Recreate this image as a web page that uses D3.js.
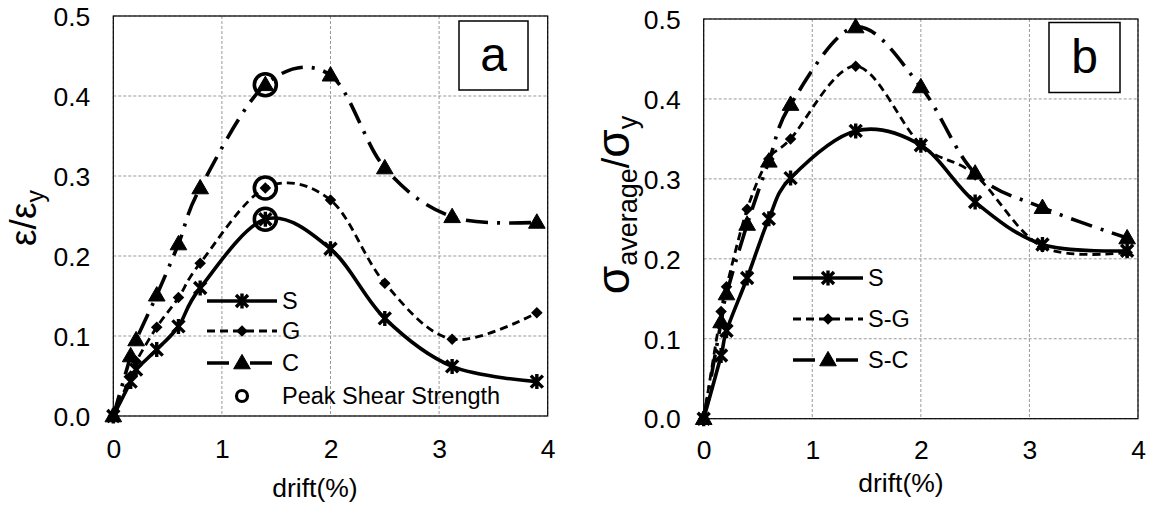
<!DOCTYPE html>
<html><head><meta charset="utf-8">
<script src="https://cdn.jsdelivr.net/npm/d3@7"></script>
<style>
html,body{margin:0;padding:0;background:#fff;}
text{font-family:"Liberation Sans",Arial,Helvetica,sans-serif;fill:#000;}
</style></head>
<body><svg id="c" width="1151" height="508"></svg>
<script>
// ---- data ----
const drift = [0, 0.16, 0.21, 0.4, 0.6, 0.8, 1.4, 2.0, 2.5, 3.12, 3.9];
const xTicks = [0, 1, 2, 3, 4];
const yTicks = [0.0, 0.1, 0.2, 0.3, 0.4, 0.5];
// panel a: strain ratio
const aS = [0, 0.043, 0.058, 0.083, 0.112, 0.160, 0.246, 0.209, 0.122, 0.062, 0.043];
const aG = [0, 0.050, 0.068, 0.111, 0.148, 0.191, 0.285, 0.270, 0.166, 0.096, 0.129];
const aC = [0, 0.075, 0.095, 0.151, 0.215, 0.285, 0.414, 0.426, 0.310, 0.249, 0.242];
const aNames = ["S", "G", "C"];
const peakDrift = 1.4;
const peakLabel = "Peak Shear Strength";
// panel b: average stress ratio
const bS = [0, 0.079, 0.110, 0.176, 0.250, 0.301, 0.360, 0.342, 0.271, 0.218, 0.210];
const bG = [0, 0.134, 0.165, 0.262, 0.325, 0.350, 0.441, 0.343, 0.305, 0.215, 0.208];
const bC = [0, 0.121, 0.156, 0.243, 0.322, 0.393, 0.490, 0.415, 0.307, 0.264, 0.226];
const bNames = ["S", "S-G", "S-C"];
const xTitle = "drift(%)";

const svg = d3.select("#c");
const styles = [
  {dash: null, w: 3.6, marker: "star"},
  {dash: "8,5", w: 2.8, marker: "diamond"},
  {dash: "22,9,3,9", w: 3.6, marker: "triangle"}
];

function drawMarker(g, type, x, y) {
  if (type === "star") {
    const r = 6;
    g.append("path").attr("d",
      `M${x-r},${y-r}L${x+r},${y+r}M${x-r},${y+r}L${x+r},${y-r}M${x},${y-r*1.25}L${x},${y+r*1.25}`)
      .attr("stroke", "#000").attr("stroke-width", 3.4).attr("fill", "none");
  } else if (type === "diamond") {
    g.append("path").attr("d", d3.symbol(d3.symbolDiamond2, 85)())
      .attr("transform", `translate(${x},${y})`).attr("fill", "#000");
  } else {
    g.append("path").attr("d", d3.symbol(d3.symbolTriangle, 120)())
      .attr("transform", `translate(${x},${y+1})`).attr("fill", "#000")
      .attr("stroke", "#000").attr("stroke-width", 1).attr("stroke-linejoin", "round");
  }
}

function panel(o) {
  const x = d3.scaleLinear().domain([0, 4]).range([o.left, o.right]);
  const y = d3.scaleLinear().domain([0, 0.5]).range([o.bottom, o.top]);
  const g = svg.append("g");
  // grid
  g.selectAll(".vg").data(xTicks).enter().append("line")
    .attr("x1", d => x(d)).attr("x2", d => x(d)).attr("y1", o.top).attr("y2", o.bottom)
    .attr("stroke", "#999").attr("stroke-width", 1).attr("stroke-dasharray", "3,2");
  g.selectAll(".hg").data(yTicks).enter().append("line")
    .attr("y1", d => y(d)).attr("y2", d => y(d)).attr("x1", o.left).attr("x2", o.right)
    .attr("stroke", "#999").attr("stroke-width", 1).attr("stroke-dasharray", "3,2");
  // frame
  g.append("rect").attr("x", o.left).attr("y", o.top)
    .attr("width", o.right - o.left).attr("height", o.bottom - o.top)
    .attr("fill", "none").attr("stroke", "#000").attr("stroke-width", 1.2);
  // axes labels via d3 axes (no lines)
  const ax = g.append("g").attr("transform", `translate(0,${o.bottom})`)
    .call(d3.axisBottom(x).tickValues(xTicks).tickFormat(d3.format("d")).tickSize(0).tickPadding(0));
  ax.select(".domain").remove();
  ax.selectAll("text").attr("font-size", 26.5).attr("font-family", "Liberation Sans, Arial, sans-serif")
    .attr("dy", null).attr("y", o.xlabY - o.bottom).attr("fill", "#000");
  const ay = g.append("g").attr("transform", `translate(${o.left},0)`)
    .call(d3.axisLeft(y).tickValues(yTicks).tickFormat(d3.format(".1f")).tickSize(0).tickPadding(0));
  ay.select(".domain").remove();
  ay.selectAll("text").attr("font-size", 26.5).attr("font-family", "Liberation Sans, Arial, sans-serif")
    .attr("x", -23).attr("dy", "0.35em").attr("fill", "#000");
  // x title
  g.append("text").attr("x", o.xtX).attr("y", o.xtY).attr("text-anchor", "middle")
    .attr("font-size", 26.5).text(xTitle);
  // series
  const line = d3.line().x((d, i) => x(drift[i])).y(d => y(d)).curve(d3.curveCardinal.tension(0));
  o.series.forEach((s, k) => {
    const st = styles[k];
    g.append("path").attr("d", line(s)).attr("fill", "none").attr("stroke", "#000")
      .attr("stroke-width", st.w).attr("stroke-dasharray", st.dash);
    s.forEach((v, i) => drawMarker(g, st.marker, x(drift[i]), y(v)));
  });
  // peak circles
  if (o.peaks) {
    o.series.forEach(s => {
      const i = drift.indexOf(peakDrift);
      g.append("circle").attr("cx", x(peakDrift)).attr("cy", y(s[i])).attr("r", 11)
        .attr("fill", "none").attr("stroke", "#000").attr("stroke-width", 3.6);
    });
  }
  // legend
  o.names.forEach((n, k) => {
    const st = styles[k];
    const ly = o.leg.rows[k];
    g.append("line").attr("x1", o.leg.x0).attr("x2", o.leg.x1).attr("y1", ly).attr("y2", ly)
      .attr("stroke", "#000").attr("stroke-width", st.w).attr("stroke-dasharray", st.dash);
    drawMarker(g, st.marker, (o.leg.x0 + o.leg.x1) / 2, ly);
    g.append("text").attr("x", o.leg.x1 + 5).attr("y", ly).attr("dy", "0.35em")
      .attr("font-size", 23.5).text(n);
  });
  if (o.peaks) {
    const ly = o.leg.rows[3];
    g.append("circle").attr("cx", (o.leg.x0 + o.leg.x1) / 2).attr("cy", ly).attr("r", 5.5)
      .attr("fill", "none").attr("stroke", "#000").attr("stroke-width", 3.2);
    g.append("text").attr("x", o.leg.x1 + 5).attr("y", ly).attr("dy", "0.35em")
      .attr("font-size", 23.5).text(peakLabel);
  }
  // letter box
  g.append("rect").attr("x", o.box.x).attr("y", o.box.y).attr("width", o.box.w).attr("height", o.box.h)
    .attr("fill", "#fff").attr("stroke", "#000").attr("stroke-width", 1.5);
  g.append("text").attr("x", o.box.x + o.box.w / 2).attr("y", o.box.y + o.box.h / 2)
    .attr("dy", "0.33em").attr("text-anchor", "middle").attr("font-size", 48).text(o.letter);
  return g;
}

panel({left: 113.3, right: 547.7, top: 16, bottom: 416, xlabY: 458, xtX: 315, xtY: 497,
  series: [aS, aG, aC], names: aNames, peaks: true,
  leg: {x0: 207, x1: 277, rows: [301, 331, 363, 396]},
  box: {x: 459, y: 21, w: 69, h: 69}, letter: "a"});
panel({left: 703.7, right: 1138, top: 19, bottom: 418.7, xlabY: 459, xtX: 901, xtY: 492,
  series: [bS, bG, bC], names: bNames, peaks: false,
  leg: {x0: 793, x1: 863, rows: [278, 319, 360]},
  box: {x: 1049, y: 22.5, w: 71, h: 70}, letter: "b"});

// y titles
const ta = svg.append("text").attr("transform", "translate(36,218) rotate(-90)")
  .attr("text-anchor", "middle");
ta.append("tspan").attr("font-size", 37).text("ε/ε");
ta.append("tspan").attr("font-size", 25).attr("dy", 8).text("y");

const tb = svg.append("text").attr("transform", "translate(629,205) rotate(-90)")
  .attr("text-anchor", "middle");
tb.append("tspan").attr("font-size", 46).text("σ");
tb.append("tspan").attr("font-size", 27).attr("dy", 8).text("average");
tb.append("tspan").attr("font-size", 38).attr("dy", -8).text("/");
tb.append("tspan").attr("font-size", 46).text("σ");
tb.append("tspan").attr("font-size", 27).attr("dy", 8).text("y");
</script></body></html>
